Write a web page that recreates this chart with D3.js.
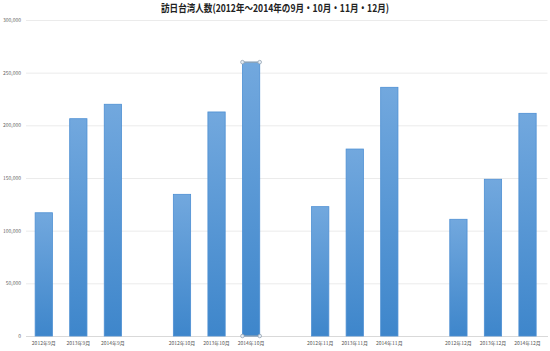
<!DOCTYPE html>
<html><head><meta charset="utf-8">
<script src="https://cdn.jsdelivr.net/npm/d3@7"></script>
<style>
html,body{margin:0;padding:0;background:#fff;}
text{font-family:"Noto Sans CJK JP","Noto Sans",sans-serif;}
</style></head>
<body><svg id="c" width="550" height="351"></svg>
<script>
const title = "訪日台湾人数(2012年～2014年の9月・10月・11月・12月)";
// "" marks an empty slot between month groups
const categories = ["2012年9月","2013年9月","2014年9月","",
  "2012年10月","2013年10月","2014年10月","",
  "2012年11月","2013年11月","2014年11月","",
  "2012年12月","2013年12月","2014年12月"];
const values = [117000,206300,220000,null,
  134500,212700,260000,null,
  122800,177500,236100,null,
  110800,148800,211400];
const yTicks = [0,50000,100000,150000,200000,250000,300000];
const selectedIndex = 6;

const svg = d3.select("#c");
const L = 26.5, R = 544.8, T = 20, B = 336;

const x = d3.scaleBand().domain(d3.range(categories.length)).range([L, R])
  .paddingInner(0.5).paddingOuter(0.25);
const y = d3.scaleLinear().domain([0, 300000]).range([B, T]);

const defs = svg.append("defs");
const g = defs.append("linearGradient").attr("id","bg").attr("x1",0).attr("y1",0).attr("x2",0).attr("y2",1);
g.append("stop").attr("offset","0%").attr("stop-color","#72a8de");
g.append("stop").attr("offset","100%").attr("stop-color","#3e86cb");

// title
svg.append("text").attr("x",275).attr("y",12).attr("text-anchor","middle")
  .attr("font-size",10.5).attr("font-weight","bold").attr("fill","#222")
  .attr("textLength",228).attr("lengthAdjust","spacingAndGlyphs").text(title);

// y axis + gridlines
const ya = svg.append("g").attr("transform",`translate(${L-0.5},0)`)
  .call(d3.axisLeft(y).tickValues(yTicks).tickSize(-(548-L)).tickPadding(5).tickFormat(d3.format(",")));
ya.select(".domain").remove();
ya.selectAll(".tick line").attr("stroke","#ebebeb").attr("stroke-width",1);
ya.selectAll(".tick text").attr("font-size",5).attr("fill","#666");

// x axis
const xa = svg.append("g").attr("transform",`translate(0,${B})`)
  .call(d3.axisBottom(x).tickSize(0).tickPadding(5.5).tickFormat(i => categories[i]));
xa.select(".domain").attr("stroke","#d9d9d9").attr("d",`M${L-0.5},0.5H548`);
xa.selectAll(".tick text").attr("font-size",5).attr("fill","#555");

// bars
const data = values.map((v,i)=>({i, v})).filter(d => d.v != null);
svg.append("g").selectAll("rect").data(data).join("rect")
  .attr("x", d => x(d.i)).attr("width", x.bandwidth())
  .attr("y", d => y(d.v)).attr("height", d => B - y(d.v))
  .attr("fill","url(#bg)").attr("stroke","#4d8fd3").attr("stroke-width",0.8);

// selection handles on selected bar
const sv = values[selectedIndex];
const sx0 = x(selectedIndex), sx1 = sx0 + x.bandwidth();
svg.append("line").attr("x1",sx0).attr("x2",sx1).attr("y1",y(sv)).attr("y2",y(sv))
  .attr("stroke","#9aa4ad").attr("stroke-width",1);
svg.append("line").attr("x1",sx0).attr("x2",sx1).attr("y1",B).attr("y2",B)
  .attr("stroke","#9aa4ad").attr("stroke-width",1);
const corners = [[sx0,y(sv)],[sx1,y(sv)],[sx0,B],[sx1,B]];
svg.append("g").selectAll("circle").data(corners).join("circle")
  .attr("cx",d=>d[0]).attr("cy",d=>d[1]).attr("r",1.8)
  .attr("fill","#e6eef6").attr("stroke","#8b9bab").attr("stroke-width",0.7);
</script></body></html>
